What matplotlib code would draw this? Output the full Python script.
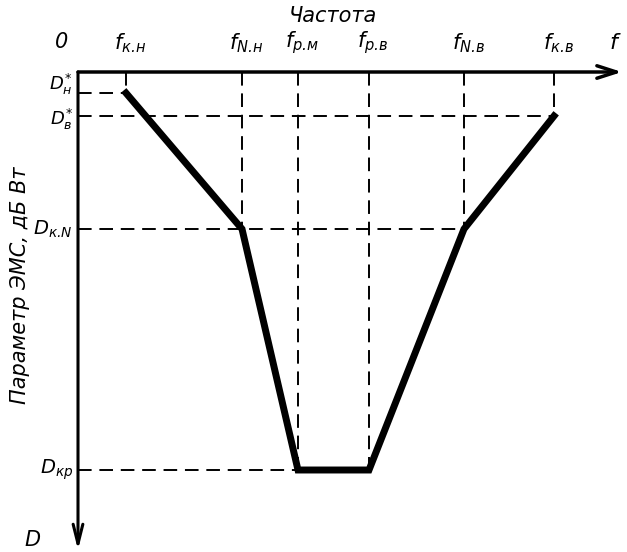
import matplotlib
matplotlib.use("Agg")
import matplotlib.pyplot as plt

plt.rcParams['font.family'] = ['DejaVu Sans']
plt.rcParams['mathtext.fontset'] = 'custom'
plt.rcParams['mathtext.rm'] = 'DejaVu Sans:italic'
plt.rcParams['mathtext.it'] = 'DejaVu Sans:italic'

# frequency marks (arbitrary units, left to right)
f_names = ['к\u2024н', 'N\u2024н', 'р\u2024м', 'р\u2024в', 'N\u2024в', 'к\u2024в']
f_vals = [4.8, 16.4, 22.0, 29.1, 38.6, 47.6]

# EMC parameter levels (downwards from the axis)
d_names = ['D_{н}^{*}', 'D_{в}^{*}', 'D_{к\u2024N}', 'D_{кр}']
d_vals = [2.1, 4.4, 15.7, 39.8]

# characteristic: which level belongs to each frequency
curve_f = f_vals
curve_d = [2.1, 15.7, 39.8, 39.8, 15.7, 4.4]

fig = plt.figure(figsize=(6.27, 5.52), dpi=100)
ax = fig.add_axes([0, 0, 1, 1])
ax.set_xlim(-7.8, 54.9)
ax.set_ylim(48.0, -7.2)
ax.axis('off')

# axes with arrows
ax.annotate('', xy=(54.4, 0), xytext=(0, 0),
            arrowprops=dict(arrowstyle='->,head_length=1.4,head_width=0.45', lw=2.5, color='black',
                            shrinkA=0, shrinkB=0))
ax.annotate('', xy=(0, 47.8), xytext=(0, 0),
            arrowprops=dict(arrowstyle='->,head_length=1.4,head_width=0.35', lw=2.2, color='black',
                            shrinkA=0, shrinkB=0))

dash = dict(color='black', lw=1.4, ls=(0, (7, 4)))
# vertical helper lines
for f, d in zip(curve_f, curve_d):
    ax.plot([f, f], [0, d], **dash)
# horizontal helper lines
ax.plot([0, f_vals[0]], [d_vals[0], d_vals[0]], **dash)
ax.plot([0, f_vals[5]], [d_vals[1], d_vals[1]], **dash)
ax.plot([0, f_vals[4]], [d_vals[2], d_vals[2]], **dash)
ax.plot([0, f_vals[2]], [d_vals[3], d_vals[3]], **dash)

ax.plot(curve_f, curve_d, color='black', lw=5, solid_joinstyle='miter')

fs = 15
for f, n in zip(f_vals, f_names):
    ax.text(f + 0.4, -2.9, '$f_{' + n + '}$', fontsize=fs, ha='center', va='center')
d_offs = [-0.9, 0.3, 0, 0]
d_fs = [13, 13, 14, 14]
for d, n, o, s in zip(d_vals, d_names, d_offs, d_fs):
    ax.text(-0.5, d + o, '$' + n + '$', fontsize=s, ha='right', va='center')

ax.text(-1.6, -3.0, '0', fontsize=fs, style='italic', ha='center', va='center')
ax.text(53.5, -2.9, 'f', fontsize=fs + 1, style='italic', ha='center', va='center')
ax.text(-4.5, 46.8, 'D', fontsize=fs, style='italic', ha='center', va='center')
ax.text(25.5, -5.6, 'Частота', fontsize=fs, style='italic', ha='center', va='center')
ax.text(-5.8, 21.3, 'Параметр ЭМС, дБ Вт', fontsize=fs, style='italic',
        rotation=90, ha='center', va='center')

fig.savefig('out.png', dpi=100)
